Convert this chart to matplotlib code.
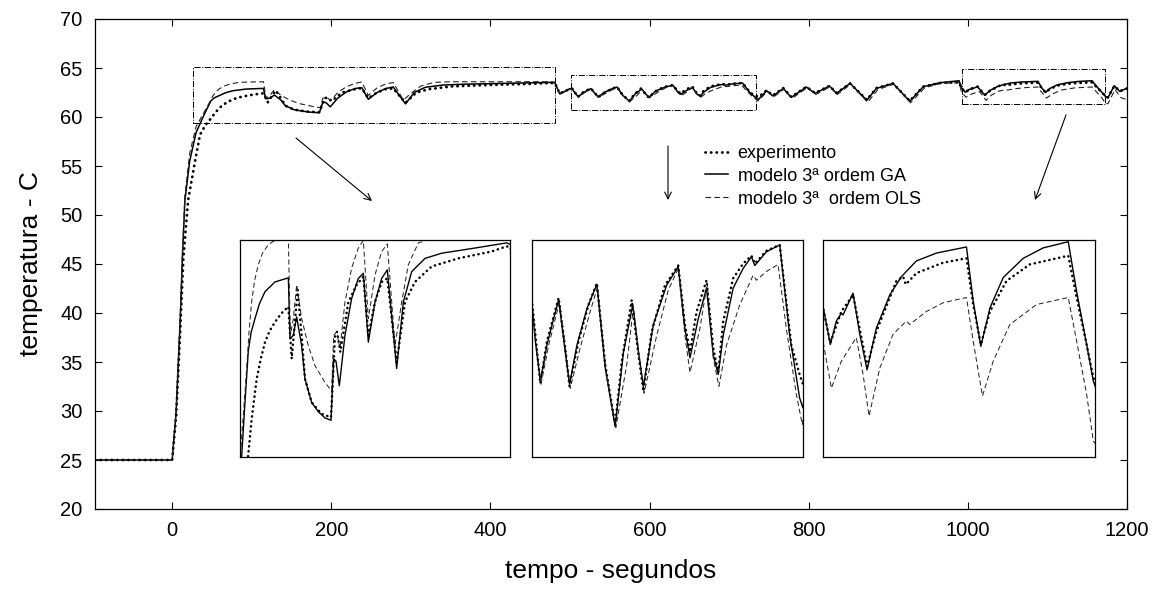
import matplotlib
matplotlib.use("Agg")
import matplotlib.pyplot as plt
from matplotlib.lines import Line2D
from matplotlib.patches import Rectangle

plt.rcParams['font.family'] = ['Liberation Sans', 'DejaVu Sans']

# ---------------- data (time in s, temperature in C) ----------------
t_ga = [-97, 0, 5, 10, 13, 16, 22, 30, 37.7, 43.2, 48.7, 53.5, 59.7, 67, 76.2, 92.7, 114.7, 117.4, 122.9, 128.4,
        136.6, 142.1, 153.1, 164.1, 175.1, 185, 189.4, 193.2, 198.7, 208, 219, 230, 238.3, 246.5, 257.5,
        268.5, 277.8, 293.2, 304.2, 318, 340, 367.4, 422.3, 474.5, 481, 487, 500,
        503, 505.9, 510.2, 515.9, 521.7, 526, 531.7, 535.4, 541.8, 550.4, 559, 566.2, 574.8, 582, 590,
        594.9, 599.2, 607.8, 619.3, 629.3, 635, 639.4, 646.6, 653.7, 659.5, 663.8, 668.1, 676.7, 685.3,
        692.5, 695.4, 705.4, 716.9, 725.5, 734.1, 737,
        747, 755, 768, 778, 797, 808, 826, 835, 852, 873, 885, 906, 927, 944, 965, 989,
        992, 996.9, 1000.9, 1004.3, 1005.4, 1012.1, 1016.6, 1021.5, 1027.7, 1036.7, 1044.5, 1046.7,
        1054.5, 1067.9, 1088, 1092.5, 1097.6, 1103.7, 1112.6, 1126, 1139.4, 1156.1, 1161.7, 1168.4, 1172.9,
        1176, 1184, 1191, 1200]
v_ga = [25, 25, 30, 39, 46, 51.5, 55.5, 58.4, 59.8, 60.75, 61.65, 61.98, 62.21, 62.47, 62.68, 62.85, 62.92, 61.86, 61.92,
        62.24, 61.74, 61.16, 60.75, 60.59, 60.48, 60.44, 61.51, 61.47, 61.04, 61.92, 62.56, 62.91, 63.0,
        61.8, 62.5, 62.91, 63.06, 61.34, 62.5, 63.03, 63.26, 63.35, 63.44, 63.53, 63.5, 62.35, 62.9,
        62.86, 62.48, 62.07, 62.44, 62.71, 62.9, 62.37, 62.04, 62.44, 62.81, 63.06, 62.21, 61.61, 62.37,
        62.85, 62.37, 62.02, 62.65, 63.05, 63.24, 62.61, 62.31, 62.71, 63.02, 62.34, 62.14, 62.54, 63.02,
        63.22, 63.34, 63.25, 63.39, 63.46, 62.54, 61.9, 61.8,
        62.69, 62.14, 62.92, 62.0, 63.06, 62.41, 63.16, 62.41, 63.43, 61.7, 62.92, 63.43, 61.6, 63.09, 63.5, 63.7,
        62.96, 62.52, 62.79, 62.88, 62.86, 63.11, 62.64, 62.23, 62.71, 63.09, 63.3, 63.34, 63.48, 63.57,
        63.64, 63.02, 62.5, 62.94, 63.29, 63.51, 63.63, 63.7, 63.13, 62.52, 62.1,
        61.95, 63.2, 62.6, 62.95]

t_exp = [-97, 0, 5, 10, 14, 20, 29, 35, 42, 48.7, 54.2, 62.5, 69, 76.2, 84, 92.7, 103, 114.7, 120.2, 130, 136.6, 142.1,
         153.1, 169.6, 185, 191.6, 194.9, 200.4, 213.6, 227.3, 238.3, 246.5, 257.5, 268.5, 277.8, 293.2,
         306.9, 323.4, 351, 394.9, 449.8, 474.5, 481, 487, 500,
         503, 510.2, 515.9, 526, 531.7, 535.4, 543.2, 551.8, 559, 566.2, 574.8, 580.5, 589.1, 594.9, 599.2,
         606.4, 617.8, 629.3, 635, 639.4, 645.1, 653.7, 659.5, 663.8, 668.1, 676.7, 685.3, 692.5, 695.4,
         705.4, 716.9, 726.9, 734.1, 737,
         747, 755, 768, 778, 797, 808, 826, 835, 852, 873, 885, 906, 927, 944, 965, 989,
         992, 996.9, 1004.3, 1012.1, 1021.5, 1027.7, 1041.1, 1045.6, 1047.4, 1054.5, 1072.4, 1088, 1092.5,
         1097.6, 1103.7, 1114.8, 1130.4, 1156.1, 1161.7, 1168.4, 1172.9,
         1176, 1184, 1191, 1200]
v_exp = [25, 25, 29.5, 38, 45.5, 51.5, 55.6, 58.2, 59.2, 59.85, 60.46, 61.16, 61.5, 61.8, 62.0, 62.15, 62.3, 62.42, 61.51,
         62.71, 61.92, 61.16, 60.75, 60.55, 60.49, 61.92, 61.98, 61.63, 62.5, 62.8, 62.94, 61.92, 62.5,
         62.85, 62.91, 61.45, 62.5, 62.85, 63.12, 63.26, 63.38, 63.47, 63.45, 62.4, 62.88,
         62.88, 62.05, 62.48, 62.92, 62.41, 62.02, 62.48, 62.85, 63.07, 62.24, 61.63, 62.27, 62.9, 62.34,
         61.97, 62.58, 63.05, 63.25, 62.65, 62.37, 62.78, 63.1, 62.41, 62.16, 62.68, 63.12, 63.27, 63.35,
         63.27, 63.4, 63.46, 62.44, 62.14, 62.04,
         62.72, 62.2, 62.95, 62.05, 63.08, 62.45, 63.18, 62.45, 63.42, 61.75, 62.95, 63.42, 61.65, 63.1, 63.47, 63.55,
         62.94, 62.54, 62.9, 63.09, 62.27, 62.67, 63.25, 63.3, 63.21, 63.34, 63.46, 63.51, 62.98, 62.52,
         62.9, 63.25, 63.44, 63.54, 63.06, 62.52, 62.14,
         62.0, 63.15, 62.65, 62.9]

t_ols = [-97, 0, 5, 10, 13, 16, 22, 30, 36, 46, 50, 54.2, 59, 65.2, 72, 81.7, 89, 98.2, 114.7, 118, 122.9, 128.4, 136.6,
         147.6, 158.6, 175, 186, 189.4, 194.3, 199.8, 208, 219, 230, 238.3, 246.5, 257.5, 268.5, 277.8,
         290.5, 301.5, 312.4, 329, 351, 477, 481, 487, 500,
         503, 510.8, 517.4, 526.8, 532.6, 536, 544.6, 553.2, 559.6, 567, 575.4, 584.8, 590.6, 595.4, 599.8,
         610.7, 620.7, 629.3, 635, 639.4, 648, 654.3, 659.5, 664.4, 671, 682.4, 693.9, 696.8, 705.4, 715.5,
         722.6, 731.2, 736.4,
         748, 756, 769, 779, 798, 809, 827, 836, 853, 874, 887, 907, 928, 946, 966, 989,
         992, 997.6, 1004.3, 1014.3, 1018.8, 1022.8, 1030, 1038.9, 1047.8, 1050, 1061.2, 1072.4, 1088,
         1092.5, 1098.7, 1105.9, 1117, 1134.9, 1156.1, 1161.7, 1168.4, 1172.9,
         1176, 1185, 1192, 1200]
v_ols = [25, 25, 30, 39.5, 46.5, 52, 56.3, 59, 59.9, 61.34, 62.0, 62.5, 62.87, 63.15, 63.35, 63.5, 63.55, 63.57, 63.6, 61.92, 62.21,
         62.8, 62.21, 61.74, 61.39, 61.1, 60.95, 61.92, 61.98, 61.69, 62.5, 63.09, 63.44, 63.57, 62.21,
         62.97, 63.38, 63.51, 61.74, 62.5, 63.15, 63.53, 63.6, 63.6, 63.55, 62.3, 62.85,
         62.81, 62.04, 62.44, 62.88, 62.34, 62.0, 62.41, 62.78, 63.03, 62.17, 61.6, 62.24, 62.83, 62.34,
         61.95, 62.54, 63.0, 63.22, 62.54, 62.16, 62.61, 63.07, 62.31, 62.02, 62.44, 62.85, 63.15, 63.1,
         63.19, 63.26, 62.61, 61.94, 61.63,
         62.6, 62.05, 62.85, 61.9, 62.98, 62.3, 63.08, 62.3, 63.35, 61.5, 62.8, 63.35, 61.45, 63.0, 63.42, 63.5,
         62.56, 62.02, 62.33, 62.6, 62.18, 61.7, 62.25, 62.64, 62.79, 62.75, 62.9, 63.0, 63.06, 62.56,
         61.93, 62.33, 62.75, 62.98, 63.06, 62.56, 61.95, 61.41,
         61.35, 62.8, 62.0, 61.75]

labels = ["experimento", "modelo 3ª ordem GA", "modelo 3ª  ordem OLS"]

# zoom windows (shown as dash-dot boxes in the main plot)
box_x = [(26, 481), (501, 734), (993, 1172)]
box_y = [(59.4, 65.1), (60.7, 64.3), (61.3, 64.9)]
# axis limits of the three inset plots
ins_xlim = [(35, 480), (503, 737), (992, 1174)]
ins_ylim = [(59.8, 63.58), (61.3, 63.51), (61.23, 63.72)]

xticks = [0, 200, 400, 600, 800, 1000, 1200]
yticks = [20, 25, 30, 35, 40, 45, 50, 55, 60, 65, 70]

# ---------------- styles ----------------
st_exp = dict(color='black', lw=2.0, linestyle=(0, (0.1, 1.9)), dash_capstyle='round')
st_ga = dict(color='black', lw=1.1, linestyle='-')
st_ols = dict(color='#222222', lw=0.8, linestyle=(0, (5, 3)))

W, H = 1152, 590
fig = plt.figure(figsize=(W / 100, H / 100), dpi=100)
ax = fig.add_axes([95 / W, 81 / H, 1032 / W, 490 / H])


def draw(a, lw_scale=1.0):
    a.plot(t_exp, v_exp, **{**st_exp, 'lw': st_exp['lw'] * lw_scale})
    a.plot(t_ga, v_ga, **{**st_ga, 'lw': st_ga['lw'] * lw_scale})
    a.plot(t_ols, v_ols, **{**st_ols, 'lw': st_ols['lw'] * lw_scale})


draw(ax)
ax.set_xlim(-97, 1200)
ax.set_ylim(20, 70)
ax.set_xticks(xticks)
ax.set_yticks(yticks)
ax.tick_params(direction='in', top=True, right=True, length=5, width=0.8,
               labelsize=14.5, pad=9)
for s in ax.spines.values():
    s.set_linewidth(0.9)
ax.set_xlabel('tempo - segundos', fontsize=19, labelpad=13)
ax.set_ylabel('temperatura - C', fontsize=19, labelpad=12)

for (x0, x1), (y0, y1) in zip(box_x, box_y):
    ax.add_patch(Rectangle((x0, y0), x1 - x0, y1 - y0, fill=False, ls='-.', lw=0.7,
                           edgecolor='black'))

# insets
ins_px = [(240, 510), (532, 803), (823, 1095)]
for (px0, px1), xl, yl in zip(ins_px, ins_xlim, ins_ylim):
    ia = fig.add_axes([px0 / W, (H - 457) / H, (px1 - px0) / W, 217 / H])
    draw(ia, 0.9)
    ia.set_xlim(*xl)
    ia.set_ylim(*yl)
    ia.set_xticks([])
    ia.set_yticks([])
    for s in ia.spines.values():
        s.set_linewidth(0.9)

# arrows from boxes to insets
arrows = [((296, 138), (372, 201)), ((668, 146), (668, 200)), ((1066, 115), (1035, 200))]
for (tx, ty), (hx, hy) in arrows:
    ax.annotate('', xy=(hx / W, 1 - hy / H), xytext=(tx / W, 1 - ty / H),
                xycoords='figure fraction', textcoords='figure fraction',
                arrowprops=dict(arrowstyle='->', lw=0.8, color='black',
                                shrinkA=0, shrinkB=0, mutation_scale=12))

handles = [Line2D([], [], **st_exp), Line2D([], [], **st_ga), Line2D([], [], **st_ols)]
ax.legend(handles, labels, loc='upper left', bbox_to_anchor=(705 / W, 1 - 145 / H),
          bbox_transform=fig.transFigure, frameon=False, fontsize=13, handlelength=1.3,
          handletextpad=0.5, labelspacing=0.32, borderpad=0, borderaxespad=0)

fig.savefig('out.png', dpi=100, facecolor='white')
